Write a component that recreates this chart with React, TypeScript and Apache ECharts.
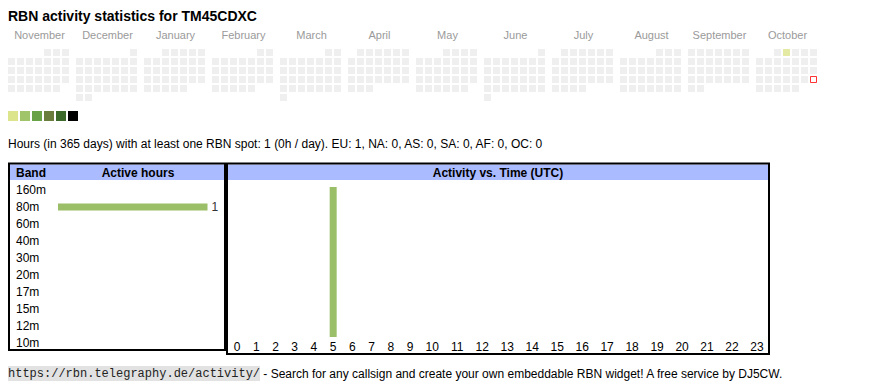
import React, { useEffect, useRef } from 'react';
import * as echarts from 'echarts';

const FONT = '"Liberation Sans", Arial, sans-serif';
const MONO = '"Liberation Mono", "Courier New", monospace';

const TITLE = 'RBN activity statistics for TM45CDXC';
const MONTHS = ['2024-11', '2024-12', '2025-01', '2025-02', '2025-03', '2025-04', '2025-05', '2025-06', '2025-07', '2025-08', '2025-09', '2025-10'];
const MONTH_NAMES = ['January', 'February', 'March', 'April', 'May', 'June', 'July', 'August', 'September', 'October', 'November', 'December'];
const ACTIVE_DAYS: [string, number][] = [['2025-10-02', 1]];
const TODAY = '2025-10-26';
const LEVEL_COLORS = ['#dde58c', '#a0c46a', '#6aa248', '#6a7d3c', '#3c6a2a', '#000000'];
const LEVEL_PIECES = [
  { min: 1, max: 2 },
  { min: 3, max: 5 },
  { min: 6, max: 9 },
  { min: 10, max: 14 },
  { min: 15, max: 19 },
  { min: 20 },
];
const SUMMARY = 'Hours (in 365 days) with at least one RBN spot: 1 (0h / day). EU: 1, NA: 0, AS: 0, SA: 0, AF: 0, OC: 0';
const BANDS = ['160m', '80m', '60m', '40m', '30m', '20m', '17m', '15m', '12m', '10m'];
const BAND_HOURS = [0, 1, 0, 0, 0, 0, 0, 0, 0, 0];
const HOURS = ['0', '1', '2', '3', '4', '5', '6', '7', '8', '9', '10', '11', '12', '13', '14', '15', '16', '17', '18', '19', '20', '21', '22', '23'];
const HOUR_ACTIVITY = [0, 0, 0, 0, 0, 1, 0, 0, 0, 0, 0, 0, 0, 0, 0, 0, 0, 0, 0, 0, 0, 0, 0, 0];
const FOOTER_URL = 'https://rbn.telegraphy.de/activity/';
const FOOTER_TEXT = ' - Search for any callsign and create your own embeddable RBN widget! A free service by DJ5CW.';

function daysOf(month: string): string[] {
  const [y, m] = month.split('-').map(Number);
  const n = new Date(Date.UTC(y, m, 0)).getUTCDate();
  const out: string[] = [];
  for (let d = 1; d <= n; d++) out.push(`${month}-${String(d).padStart(2, '0')}`);
  return out;
}

// table-like column layout of the hour axis (wider cells for two-digit labels)
const colWidth = (label: string) => 13.6 + 5.8 * label.length;
const HOUR_CENTERS: number[] = [];
let acc = 0;
HOURS.forEach((h) => {
  const w = colWidth(h);
  HOUR_CENTERS.push(acc + w / 2);
  acc += w;
});
const HOUR_TOTAL = acc;

export default function App() {
  const ref = useRef<HTMLDivElement>(null);
  useEffect(() => {
    if (!ref.current) return;
    const chart = echarts.init(ref.current, undefined, { renderer: 'svg' });
    const activeMap: Record<string, number> = {};
    ACTIVE_DAYS.forEach(([d, v]) => (activeMap[d] = v));

    const MONTH_X0 = 7;
    const MONTH_STEP = 68;

    const calendars = MONTHS.map((m, i) => ({
      left: MONTH_X0 + i * MONTH_STEP,
      top: 48,
      cellSize: [9, 9],
      orient: 'vertical',
      range: m,
      splitLine: { show: false },
      itemStyle: { color: 'transparent', borderWidth: 0 },
      dayLabel: { show: false, firstDay: 1 },
      monthLabel: { show: false },
      yearLabel: { show: false },
    }));

    const calSeries: any[] = MONTHS.map((m, i) => ({
      type: 'scatter',
      coordinateSystem: 'calendar',
      calendarIndex: i,
      symbol: 'rect',
      symbolSize: 7,
      silent: true,
      data: daysOf(m)
        .filter((d) => d !== TODAY)
        .map((d) => [d, activeMap[d] ?? 0]),
    }));

    const todayMonth = MONTHS.indexOf(TODAY.slice(0, 7));
    calSeries.push({
      type: 'scatter',
      coordinateSystem: 'calendar',
      calendarIndex: todayMonth,
      symbol: 'rect',
      symbolSize: 6,
      silent: true,
      itemStyle: { color: '#ffffff', borderColor: '#ff0000', borderWidth: 1 },
      data: [[TODAY, activeMap[TODAY] ?? 0]],
    });

    const graphics: any[] = [
      {
        type: 'text',
        x: 8,
        y: 15.5,
        style: { text: TITLE, fontSize: 14, fontWeight: 'bold', fontFamily: FONT, fill: '#000', verticalAlign: 'middle' },
      },
      ...MONTHS.map((m, i) => ({
        type: 'text',
        x: MONTH_X0 + i * MONTH_STEP + 32.5,
        y: 35,
        style: {
          text: MONTH_NAMES[Number(m.slice(5)) - 1],
          fontSize: 11,
          fontFamily: FONT,
          fill: '#9a9a9a',
          align: 'center',
          verticalAlign: 'middle',
        },
      })),
      {
        type: 'text',
        x: 8,
        y: 143.5,
        style: { text: SUMMARY, fontSize: 12, fontFamily: FONT, fill: '#000', verticalAlign: 'middle' },
      },
      { type: 'rect', shape: { x: 10, y: 164.5, width: 214, height: 15.5 }, style: { fill: '#aabbff' } },
      { type: 'rect', shape: { x: 228, y: 164.5, width: 540, height: 15.5 }, style: { fill: '#aabbff' } },
      { type: 'rect', z: 20, shape: { x: 9, y: 163.5, width: 216, height: 186.5 }, style: { fill: 'none', stroke: '#000', lineWidth: 2 } },
      { type: 'rect', z: 20, shape: { x: 227, y: 163.5, width: 542, height: 190.5 }, style: { fill: 'none', stroke: '#000', lineWidth: 2 } },
      {
        type: 'text',
        x: 16,
        y: 173,
        style: { text: 'Band', fontSize: 12, fontWeight: 'bold', fontFamily: FONT, fill: '#000', verticalAlign: 'middle' },
      },
      {
        type: 'text',
        x: 138,
        y: 173,
        style: { text: 'Active hours', fontSize: 12, fontWeight: 'bold', fontFamily: FONT, fill: '#000', align: 'center', verticalAlign: 'middle' },
      },
      {
        type: 'text',
        x: 498,
        y: 173,
        style: { text: 'Activity vs. Time (UTC)', fontSize: 12, fontWeight: 'bold', fontFamily: FONT, fill: '#000', align: 'center', verticalAlign: 'middle' },
      },
      { type: 'rect', shape: { x: 8, y: 366, width: 252, height: 15 }, style: { fill: '#e2e2e2' } },
      {
        type: 'text',
        x: 8,
        y: 374,
        style: { text: FOOTER_URL, fontSize: 12, fontFamily: MONO, fill: '#222', verticalAlign: 'middle' },
      },
      {
        type: 'text',
        x: 260,
        y: 374,
        style: { text: FOOTER_TEXT, fontSize: 12, fontFamily: FONT, fill: '#000', verticalAlign: 'middle' },
      },
    ];

    const option: any = {
      animation: false,
      textStyle: { fontFamily: FONT },
      calendar: calendars,
      visualMap: {
        type: 'piecewise',
        pieces: LEVEL_PIECES.map((p, i) => ({ ...p, color: LEVEL_COLORS[i] })),
        orient: 'horizontal',
        left: 8,
        top: 111,
        itemWidth: 10,
        itemHeight: 10,
        itemGap: 2,
        itemSymbol: 'rect',
        showLabel: false,
        padding: 0,
        selectedMode: false,
        hoverLink: false,
        dimension: 1,
        seriesIndex: MONTHS.map((_, i) => i),
        outOfRange: { color: '#ebebeb' },
      },
      grid: [
        { left: 58, top: 181.5, width: 149.5, height: 170 },
        { left: 227.4, top: 187, width: 542.1, height: 150 },
      ],
      xAxis: [
        { type: 'value', gridIndex: 0, min: 0, max: Math.max(...BAND_HOURS), show: false },
        { type: 'value', gridIndex: 1, min: 0, max: HOUR_TOTAL, show: false },
      ],
      yAxis: [
        {
          type: 'category',
          gridIndex: 0,
          data: BANDS,
          inverse: true,
          axisLine: { show: false },
          axisTick: { show: false },
          splitLine: { show: false },
          axisLabel: { margin: 42, align: 'left', fontSize: 12, color: '#000', fontFamily: FONT },
        },
        { type: 'value', gridIndex: 1, min: 0, max: Math.max(...HOUR_ACTIVITY), show: false },
      ],
      series: [
        ...calSeries,
        {
          type: 'bar',
          xAxisIndex: 0,
          yAxisIndex: 0,
          data: BAND_HOURS,
          barWidth: 7,
          silent: true,
          itemStyle: { color: '#9bbe69' },
          label: {
            show: true,
            position: 'right',
            distance: 4,
            fontSize: 12,
            color: '#333',
            fontFamily: FONT,
            formatter: (p: any) => (p.value > 0 ? String(p.value) : ''),
          },
        },
        {
          type: 'bar',
          xAxisIndex: 1,
          yAxisIndex: 1,
          barWidth: 7,
          silent: true,
          itemStyle: { color: '#9bbe69' },
          data: HOURS.map((_, i) => [HOUR_CENTERS[i], HOUR_ACTIVITY[i]]),
        },
        {
          type: 'custom',
          xAxisIndex: 1,
          yAxisIndex: 1,
          silent: true,
          clip: false,
          data: HOURS.map((_, i) => [HOUR_CENTERS[i], 0]),
          renderItem: (params: any, api: any) => {
            const p = api.coord([api.value(0), 0]);
            return {
              type: 'text',
              x: p[0],
              y: p[1] + 10,
              style: {
                text: HOURS[params.dataIndex],
                fontSize: 12,
                fontFamily: FONT,
                fill: '#000',
                align: 'center',
                verticalAlign: 'middle',
              },
            };
          },
        },
      ],
      graphic: graphics,
    };
    chart.setOption(option);
    return () => chart.dispose();
  }, []);
  return <div ref={ref} style={{ position: 'absolute', left: 0, top: 0, width: 870, height: 390 }} />;
}
